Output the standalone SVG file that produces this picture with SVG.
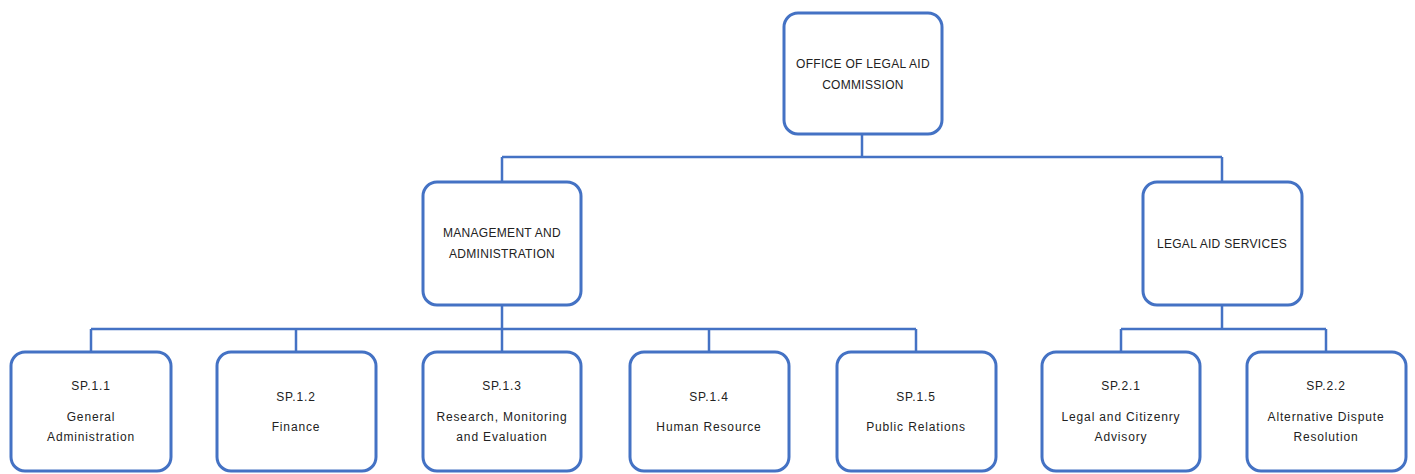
<svg xmlns="http://www.w3.org/2000/svg" width="1415" height="474" viewBox="0 0 1415 474">
<style>
.box{fill:#fff;stroke:#4472C4;stroke-width:3}
.ln{fill:none;stroke:#4472C4;stroke-width:2.5}
text{font-family:"Liberation Sans",Arial,sans-serif;fill:#222;text-anchor:middle}
.cap{font-size:12px;letter-spacing:0.3px}
.sm{font-size:12px;letter-spacing:0.85px}
</style>
<rect width="1415" height="474" fill="#fff"/>
<g id="connectors">
<path class="ln" d="M862,134V157M502,157H1222M502,157V182M1222,157V182"/>
<path class="ln" d="M502,305V352M91,329H916M91,329V352M296,329V352M709,329V352M916,329V352"/>
<path class="ln" d="M1222,305V329M1121,329H1326M1121,329V352M1326,329V352"/>
</g>
<g id="office">
<rect class="box" x="784" y="13" width="158" height="121" rx="14"/>
<text class="cap" x="863" y="68">OFFICE OF LEGAL  AID</text>
<text class="cap" x="863" y="89">COMMISSION</text>
</g>
<g id="management">
<rect class="box" x="423" y="182" width="158" height="123" rx="14"/>
<text class="cap" x="502" y="237">MANAGEMENT  AND</text>
<text class="cap" x="502" y="258">ADMINISTRATION</text>
</g>
<g id="legalaid">
<rect class="box" x="1143" y="182" width="159" height="123" rx="14"/>
<text class="cap" x="1222" y="248">LEGAL  AID SERVICES</text>
</g>
<g id="sp11">
<rect class="box" x="11" y="352" width="160" height="119" rx="14"/>
<text class="sm" x="91" y="390">SP.1.1</text>
<text class="sm" x="91" y="421">General</text>
<text class="sm" x="91" y="441">Administration</text>
</g>
<g id="sp12">
<rect class="box" x="217" y="352" width="159" height="119" rx="14"/>
<text class="sm" x="296" y="401">SP.1.2</text>
<text class="sm" x="296" y="431">Finance</text>
</g>
<g id="sp13">
<rect class="box" x="423" y="352" width="158" height="119" rx="14"/>
<text class="sm" x="502" y="390">SP.1.3</text>
<text class="sm" x="502" y="421">Research,  Monitoring</text>
<text class="sm" x="502" y="441">and Evaluation</text>
</g>
<g id="sp14">
<rect class="box" x="630" y="352" width="159" height="119" rx="14"/>
<text class="sm" x="709" y="401">SP.1.4</text>
<text class="sm" x="709" y="431">Human  Resource</text>
</g>
<g id="sp15">
<rect class="box" x="837" y="352" width="159" height="119" rx="14"/>
<text class="sm" x="916" y="401">SP.1.5</text>
<text class="sm" x="916" y="431">Public  Relations</text>
</g>
<g id="sp21">
<rect class="box" x="1042" y="352" width="158" height="119" rx="14"/>
<text class="sm" x="1121" y="390">SP.2.1</text>
<text class="sm" x="1121" y="421">Legal and Citizenry</text>
<text class="sm" x="1121" y="441">Advisory</text>
</g>
<g id="sp22">
<rect class="box" x="1247" y="352" width="159" height="119" rx="14"/>
<text class="sm" x="1326" y="390">SP.2.2</text>
<text class="sm" x="1326" y="421">Alternative  Dispute</text>
<text class="sm" x="1326" y="441">Resolution</text>
</g>
</svg>
